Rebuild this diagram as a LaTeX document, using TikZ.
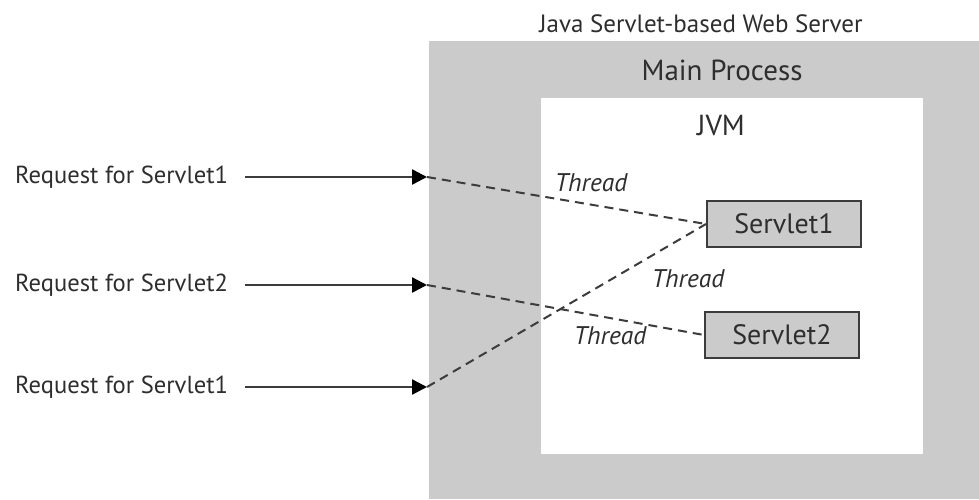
\documentclass[tikz,border=0pt]{standalone}
\usepackage{fontspec}
\setmainfont{PT Sans}
\usetikzlibrary{arrows.meta}
\definecolor{boxgray}{HTML}{CBCBCB}
\definecolor{ink}{HTML}{2E2E2E}
\definecolor{wire}{HTML}{3C3C3C}
\tikzset{
  lbl/.style={text=ink, inner sep=0pt, font=\fontsize{24.6}{28}\selectfont},
  thr/.style={text=ink, inner sep=0pt, font=\fontsize{25.5}{30}\itshape\selectfont},
  servletbox/.style={draw=wire, line width=2pt, fill=boxgray, text=ink,
    minimum width=154pt, minimum height=46pt, inner sep=0pt,
    font=\fontsize{28}{32}\selectfont},
  req/.style={draw=wire, line width=2.5pt, -{Triangle[length=15pt,width=15pt,fill=black,color=black]}},
  thread/.style={draw=wire, line width=2pt, dash pattern=on 9pt off 6pt},
}
\begin{document}
\begin{tikzpicture}[x=1pt,y=-1pt]
\useasboundingbox (0,0) rectangle (979,499);
\fill[white] (0,0) rectangle (979,499);
% server process area and JVM
\fill[boxgray] (429,41) rectangle (979,499);
\fill[white] (541,98) rectangle (923,454);
\node[text=ink, inner sep=0pt, font=\fontsize{25}{29}\selectfont] (server) at (701,24) {Java Servlet-based Web Server};
\node[text=ink, inner sep=0pt, font=\fontsize{29}{34}\selectfont] (main) at (722,70) {Main Process};
\node[text=ink, inner sep=0pt, font=\fontsize{29}{34}\selectfont] (jvm) at (721,126) {JVM};
% servlets
\node[servletbox] (s1) at (784,224) {Servlet1};
\node[servletbox] (s2) at (782,335) {Servlet2};
% requests
\node[lbl, anchor=west] (r1) at (15,177) {Request for Servlet1};
\node[lbl, anchor=west] (r2) at (15,285) {Request for Servlet2};
\node[lbl, anchor=west] (r3) at (15,387) {Request for Servlet1};
\coordinate (e1) at (427,177);
\coordinate (e2) at (427,285);
\coordinate (e3) at (427,387);
\draw[req] (245,177) -- (e1);
\draw[req] (245,285) -- (e2);
\draw[req] (245,387) -- (e3);
% threads
\draw[thread] (e1) -- (s1.west);
\draw[thread] (e2) -- (s2.west);
\draw[thread] (e3) -- (s1.west);
\node[thr] (t1) at (591,183) {Thread};
\node[thr] (t2) at (688,279) {Thread};
\node[thr] (t3) at (610,336) {Thread};
\end{tikzpicture}
\end{document}
